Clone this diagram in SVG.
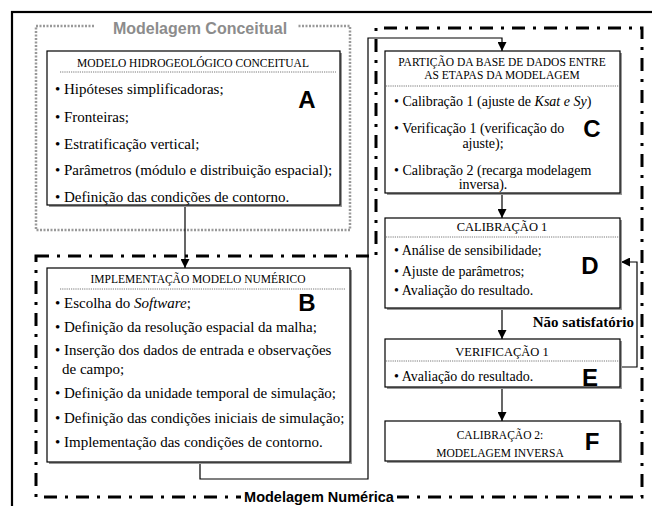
<svg xmlns="http://www.w3.org/2000/svg" width="652" height="506" viewBox="0 0 652 506">
<style>
.box{fill:#fff;stroke:#000;stroke-width:1.2}
.shadow{fill:#999}
.t{font-family:'Liberation Serif','Times New Roman',Times,serif;font-size:15px;fill:#000}
.s{font-size:14px}
.h{font-family:'Liberation Serif','Times New Roman',Times,serif;font-size:11.5px;fill:#000;text-anchor:middle}
.h2{font-size:12.5px}
.big{font-family:'Liberation Sans',Arial,sans-serif;font-size:24px;font-weight:bold;fill:#000;text-anchor:middle}
.sep{stroke:#555;stroke-width:0.8;stroke-dasharray:1.2 1}
.conn{fill:none;stroke:#000;stroke-width:1.2}
</style>
<defs>
<marker id="arr" viewBox="0 0 10 10" refX="10" refY="5" markerWidth="9" markerHeight="9" markerUnits="userSpaceOnUse" orient="auto">
<path d="M0,0 L10,5 L0,10 Z" fill="#000"/>
</marker>
</defs>
<rect x="0" y="0" width="652" height="506" fill="#fff"/>
<rect x="12" y="12" width="680" height="540" fill="none" stroke="#000" stroke-width="2.2"/>

<g id="modelagem-conceitual">
<rect x="36" y="26" width="314" height="204" fill="none" stroke="#999" stroke-width="2.5" stroke-dasharray="2 1.5"/>
<rect x="94" y="16" width="204" height="20" fill="#fff"/>
<text x="200" y="34" font-family="'Liberation Sans',Arial,sans-serif" font-size="16" font-weight="bold" fill="#8c8c8c" text-anchor="middle">Modelagem Conceitual</text>
</g>

<g id="modelagem-numerica">
<path d="M36,256 H376 V28 H642 V497 H36 Z" fill="none" stroke="#000" stroke-width="3" stroke-dasharray="13 8 3 8"/>
<rect x="241" y="486" width="156" height="20" fill="#fff"/>
<text x="319" y="502" font-family="'Liberation Sans',Arial,sans-serif" font-size="14.5" font-weight="bold" fill="#000" text-anchor="middle">Modelagem Numérica</text>
</g>

<g id="connectors">
<path class="conn" d="M185,205 V268" marker-end="url(#arr)"/>
<path class="conn" d="M200,462 V479 H368 V38 H502 V51" marker-end="url(#arr)"/>
<path class="conn" d="M502,193 V218" marker-end="url(#arr)"/>
<path class="conn" d="M502,308 V339" marker-end="url(#arr)"/>
<path class="conn" d="M502,387 V421" marker-end="url(#arr)"/>
<path class="conn" d="M620,367 H637 V262 H621" marker-end="url(#arr)"/>
<text class="t" x="634" y="327" font-size="14.5" font-weight="bold" text-anchor="end">Não satisfatório</text>
</g>

<g id="A">
<rect class="shadow" x="49" y="53" width="293" height="154"/>
<rect class="box" x="47" y="51" width="293" height="154"/>
<text class="h" x="193" y="67">MODELO HIDROGEOLÓGICO CONCEITUAL</text>
<line class="sep" x1="60" y1="72" x2="336" y2="72"/>
<text class="t" x="55" y="94">• Hipóteses simplificadoras;</text>
<text class="t" x="55" y="122">• Fronteiras;</text>
<text class="t" x="55" y="149">• Estratificação vertical;</text>
<text class="t" x="55" y="175">• Parâmetros (módulo e distribuição espacial);</text>
<text class="t" x="55" y="202">• Definição das condições de contorno.</text>
<text class="big" x="307" y="108">A</text>
</g>

<g id="B">
<rect class="shadow" x="49" y="270" width="303" height="194"/>
<rect class="box" x="47" y="268" width="303" height="194"/>
<text class="h" x="198" y="283">IMPLEMENTAÇÃO MODELO NUMÉRICO</text>
<line class="sep" x1="60" y1="289" x2="346" y2="289"/>
<text class="t" x="55" y="308">• Escolha do <tspan font-style="italic">Software</tspan>;</text>
<text class="t" x="55" y="332">• Definição da resolução espacial da malha;</text>
<text class="t" x="55" y="355">• Inserção dos dados de entrada e observações</text>
<text class="t" x="62" y="374">de campo;</text>
<text class="t" x="55" y="398">• Definição da unidade temporal de simulação;</text>
<text class="t" x="55" y="423">• Definição das condições iniciais de simulação;</text>
<text class="t" x="55" y="447">• Implementação das condições de contorno.</text>
<text class="big" x="307" y="311">B</text>
</g>

<g id="C">
<rect class="shadow" x="387" y="53" width="235" height="142"/>
<rect class="box" x="385" y="51" width="235" height="142"/>
<text class="h" x="502" y="66">PARTIÇÃO DA BASE DE DADOS ENTRE</text>
<text class="h" x="502" y="79">AS ETAPAS DA MODELAGEM</text>
<line class="sep" x1="386" y1="86" x2="619" y2="86"/>
<text class="t s" x="394" y="106">• Calibração 1 (ajuste de <tspan font-style="italic">Ksat e Sy</tspan>)</text>
<text class="t s" x="394" y="133">• Verificação 1 (verificação do</text>
<text class="t s" x="483" y="148" text-anchor="middle">ajuste);</text>
<text class="t s" x="394" y="175">• Calibração 2 (recarga modelagem</text>
<text class="t s" x="483" y="189" text-anchor="middle">inversa).</text>
<text class="big" x="592" y="137">C</text>
</g>

<g id="D">
<rect class="shadow" x="387" y="220" width="235" height="90"/>
<rect class="box" x="385" y="218" width="235" height="90"/>
<text class="h h2" x="502" y="231">CALIBRAÇÃO 1</text>
<line class="sep" x1="386" y1="237" x2="619" y2="237"/>
<text class="t s" x="394" y="255">• Análise de sensibilidade;</text>
<text class="t s" x="394" y="276">• Ajuste de parâmetros;</text>
<text class="t s" x="394" y="295">• Avaliação do resultado.</text>
<text class="big" x="590" y="274">D</text>
</g>

<g id="E">
<rect class="shadow" x="387" y="341" width="235" height="48"/>
<rect class="box" x="385" y="339" width="235" height="48"/>
<text class="h h2" x="502" y="356">VERIFICAÇÃO 1</text>
<line class="sep" x1="386" y1="361" x2="619" y2="361"/>
<text class="t s" x="394" y="381">• Avaliação do resultado.</text>
<text class="big" x="590" y="386">E</text>
</g>

<g id="F">
<rect class="shadow" x="387" y="423" width="235" height="40"/>
<rect class="box" x="385" y="421" width="235" height="40"/>
<text class="h" x="500" y="439" font-size="12.5">CALIBRAÇÃO 2:</text>
<text class="h" x="500" y="457" font-size="12">MODELAGEM INVERSA</text>
<text class="big" x="592" y="450">F</text>
</g>
</svg>
